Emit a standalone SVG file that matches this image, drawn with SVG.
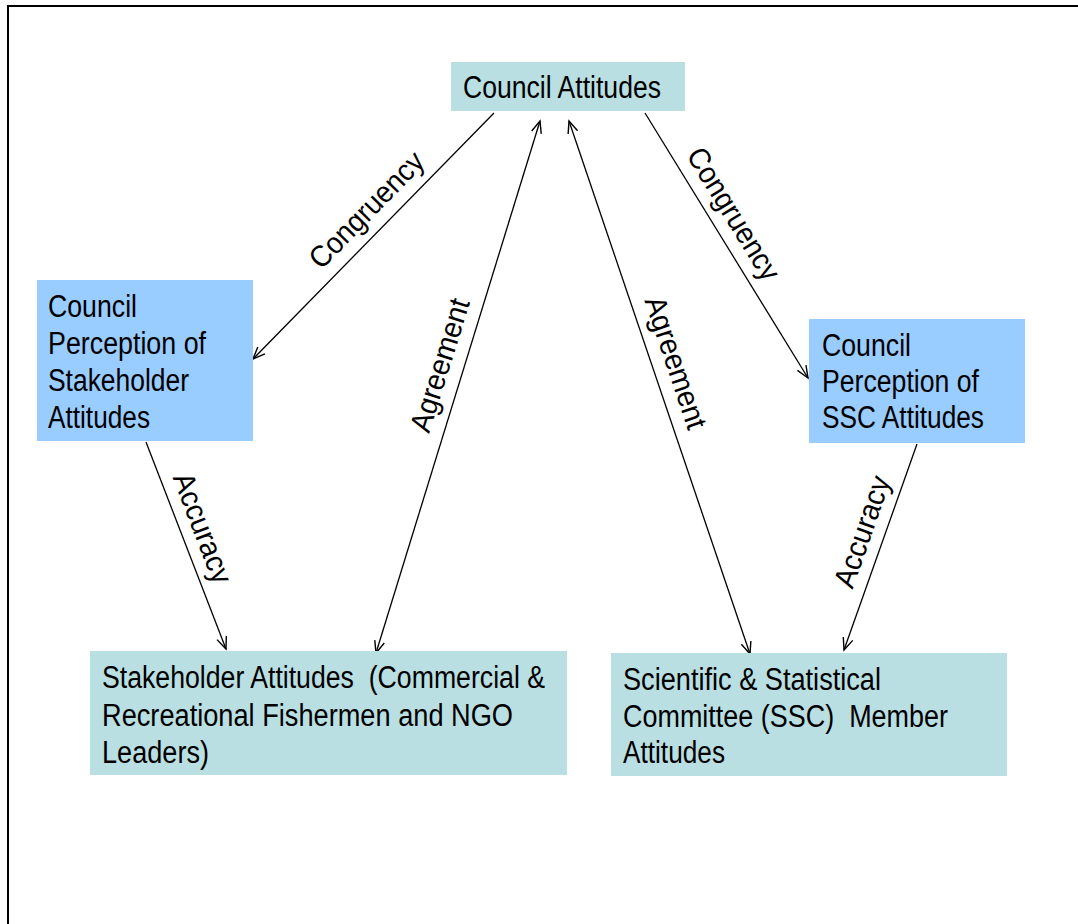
<svg xmlns="http://www.w3.org/2000/svg" width="1078" height="924" viewBox="0 0 1078 924">
<style>
.t{font-family:"Liberation Sans",Arial,sans-serif;font-size:31px;fill:#000;white-space:pre}
.teal{fill:#B9DFE3}
.blue{fill:#99CCFF}
.c{stroke:#000;stroke-width:1.3;fill:none}
.lbl{font-family:"Liberation Sans",Arial,sans-serif;font-size:30px;fill:#000;text-anchor:middle}
</style>
<defs>
<marker id="ah" markerUnits="userSpaceOnUse" markerWidth="16" markerHeight="14" refX="13" refY="6" orient="auto-start-reverse" viewBox="0 0 16 14">
<path d="M1,1 L13,6 L1,11" fill="none" stroke="#000" stroke-width="1.4"/>
</marker>
</defs>
<rect width="1078" height="924" fill="#fff"/>
<path d="M8,924 V6 H1078" fill="none" stroke="#000" stroke-width="2"/>

<g id="connectors">
<line class="c" x1="494" y1="113" x2="253" y2="359" marker-end="url(#ah)"/>
<line class="c" x1="645" y1="113" x2="808" y2="378" marker-end="url(#ah)"/>
<line class="c" x1="376" y1="653" x2="540" y2="121" marker-start="url(#ah)" marker-end="url(#ah)"/>
<line class="c" x1="569" y1="121" x2="750" y2="654" marker-start="url(#ah)" marker-end="url(#ah)"/>
<line class="c" x1="146" y1="442" x2="226" y2="649" marker-end="url(#ah)"/>
<line class="c" x1="917" y1="444" x2="844" y2="650" marker-end="url(#ah)"/>
<text class="lbl" transform="translate(383,226) rotate(-45.6)" x="0" y="-13" textLength="150" lengthAdjust="spacingAndGlyphs">Congruency</text>
<text class="lbl" transform="translate(714,226) rotate(58.4)" x="0" y="-13" textLength="150" lengthAdjust="spacingAndGlyphs">Congruency</text>
<text class="lbl" transform="translate(462,372) rotate(-72.7)" x="0" y="-13" textLength="138" lengthAdjust="spacingAndGlyphs">Agreement</text>
<text class="lbl" transform="translate(654,370) rotate(71.4)" x="0" y="-13" textLength="138" lengthAdjust="spacingAndGlyphs">Agreement</text>
<text class="lbl" transform="translate(182,536) rotate(69)" x="0" y="-12" textLength="116" lengthAdjust="spacingAndGlyphs">Accuracy</text>
<text class="lbl" transform="translate(883,539) rotate(-70.7)" x="0" y="-12" textLength="116" lengthAdjust="spacingAndGlyphs">Accuracy</text>
</g>

<g id="council-attitudes">
<rect class="teal" x="451" y="62" width="234" height="49"/>
<text class="t" x="463" y="98" textLength="198" lengthAdjust="spacingAndGlyphs">Council Attitudes</text>
</g>

<g id="perception-stakeholder">
<rect class="blue" x="37" y="280" width="216" height="161"/>
<text class="t" x="48" y="317" textLength="89" lengthAdjust="spacingAndGlyphs">Council</text>
<text class="t" x="48" y="354" textLength="158" lengthAdjust="spacingAndGlyphs">Perception of</text>
<text class="t" x="48" y="391" textLength="141" lengthAdjust="spacingAndGlyphs">Stakeholder</text>
<text class="t" x="48" y="428" textLength="102" lengthAdjust="spacingAndGlyphs">Attitudes</text>
</g>

<g id="perception-ssc">
<rect class="blue" x="809" y="319" width="216" height="124"/>
<text class="t" x="822" y="356" textLength="89" lengthAdjust="spacingAndGlyphs">Council</text>
<text class="t" x="822" y="392" textLength="157" lengthAdjust="spacingAndGlyphs">Perception of</text>
<text class="t" x="822" y="428" textLength="162" lengthAdjust="spacingAndGlyphs">SSC Attitudes</text>
</g>

<g id="stakeholder-attitudes">
<rect class="teal" x="90" y="651" width="477" height="124"/>
<text class="t" x="102" y="688" textLength="443" lengthAdjust="spacingAndGlyphs" xml:space="preserve">Stakeholder Attitudes  (Commercial &amp;</text>
<text class="t" x="102" y="726" textLength="411" lengthAdjust="spacingAndGlyphs">Recreational Fishermen and NGO</text>
<text class="t" x="102" y="763" textLength="107" lengthAdjust="spacingAndGlyphs">Leaders)</text>
</g>

<g id="ssc-attitudes">
<rect class="teal" x="611" y="653" width="396" height="123"/>
<text class="t" x="623" y="690" textLength="258" lengthAdjust="spacingAndGlyphs">Scientific &amp; Statistical</text>
<text class="t" x="623" y="727" textLength="325" lengthAdjust="spacingAndGlyphs" xml:space="preserve">Committee (SSC)  Member</text>
<text class="t" x="623" y="763" textLength="102" lengthAdjust="spacingAndGlyphs">Attitudes</text>
</g>
</svg>
